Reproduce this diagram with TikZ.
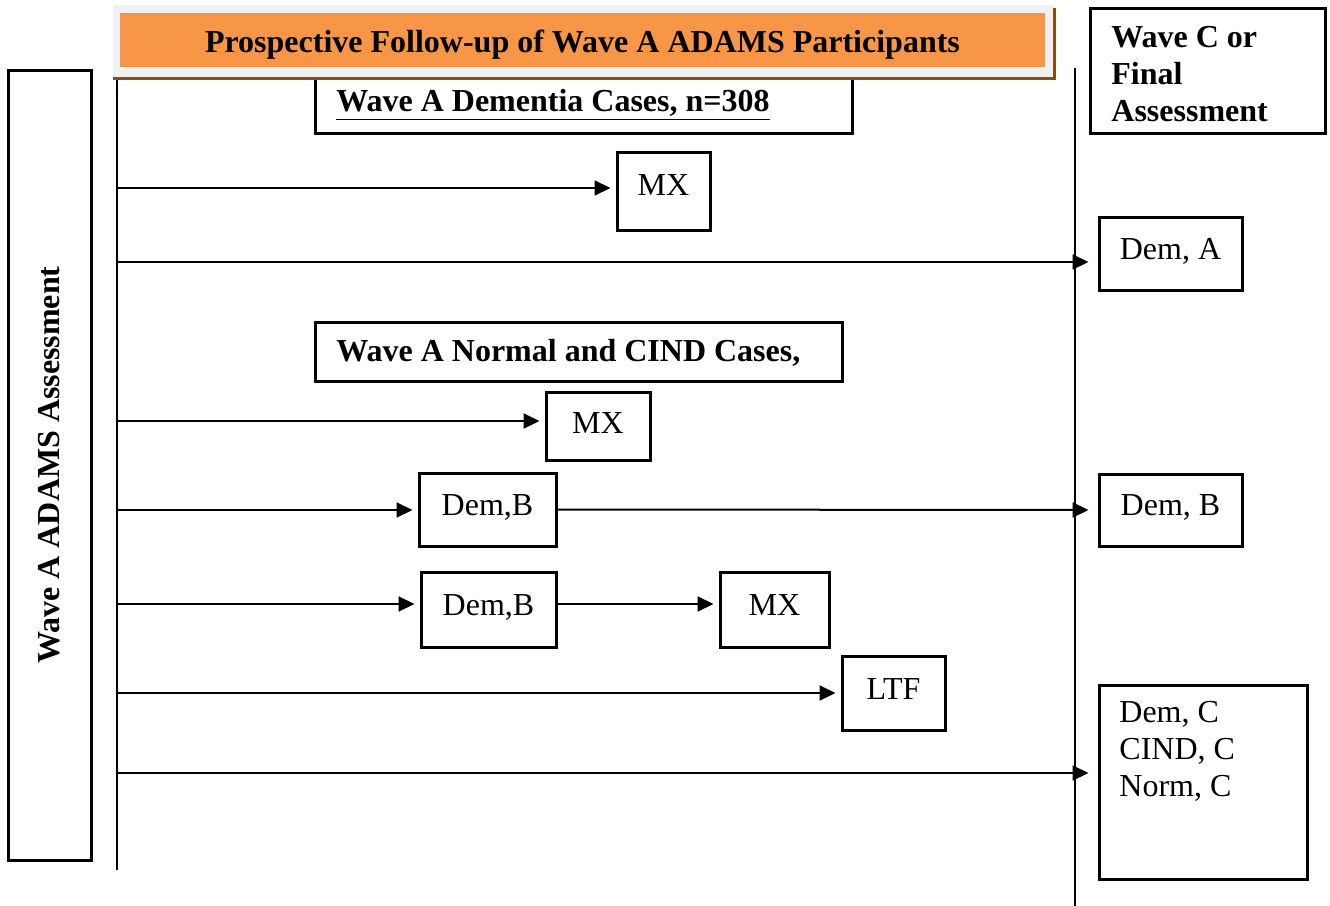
\documentclass[tikz,border=0pt]{standalone}
\usepackage{fontspec}
\setmainfont{Liberation Serif}
\usetikzlibrary{positioning,arrows.meta}
\definecolor{titleorange}{RGB}{247,150,70}
\definecolor{titlebrown}{RGB}{152,72,6}
\definecolor{titlegray}{RGB}{240,241,242}

\begin{document}
\begin{tikzpicture}[x=0.5pt, y=-0.5pt,
    box/.style={draw, rectangle, line width=1.5pt, inner sep=0pt,
                font=\fontsize{16}{18.5}\selectfont},
    htext/.style={font=\fontsize{16}{18.5}\selectfont\bfseries, inner sep=0pt,
                  anchor=west, align=left},
    ar/.style={-{Triangle[length=8pt,width=7.5pt]}, line width=1pt,
               shorten >=2.5pt},
    tline/.style={line width=1.3pt},
]
\useasboundingbox (0,0) rectangle (1330,906);

% case group headers
\node[box, minimum width=268.5pt, minimum height=27.5pt] (dem) at (583.5,106) {};
\node[htext] (demtxt) at (336,105) {\underline{Wave A Dementia Cases, n=308}};
\node[box, minimum width=263.5pt, minimum height=29.5pt] (norm) at (578.5,351.5) {};
\node[htext] (normtxt) at (336,353) {Wave A Normal and CIND Cases,};

% title banner
\fill[titlegray] (113,5) rectangle (1054,77);
\node[fill=titleorange, minimum width=462.5pt, minimum height=27pt, inner sep=0pt,
      text height=12.5pt, text depth=0.5pt,
      font=\fontsize{16}{18.5}\selectfont\bfseries] (title) at (582.5,40)
    {Prospective Follow-up of Wave A ADAMS Participants};
\draw[titlebrown, line width=1.5pt] (1054,8) -- (1054,78) -- (113,78);

% side headers
\node[box, minimum width=41.5pt, minimum height=395pt] (waveA) at (49.5,465) {};
\node[font=\fontsize{16}{18.5}\selectfont\bfseries, rotate=90] (waveAtxt)
    at (waveA) {Wave A ADAMS Assessment};
\node[box, minimum width=117.5pt, minimum height=62.5pt] (waveC) at (1207.5,70.5) {};
\node[htext] (waveCtxt) at (1111,74) {Wave C or\\Final\\Assessment};

% time lines
\coordinate (ltop) at (117,80);
\coordinate (lbot) at (117,870);
\coordinate (rtop) at (1075,68);
\coordinate (rbot) at (1075,906);
\draw[tline] (ltop) -- (lbot);
\draw[tline] (rtop) -- (rbot);

% outcome boxes
\node[box, minimum width=46.5pt, minimum height=39pt] (mx1) at (663.5,191) {\raisebox{6pt}{MX}};
\node[box, minimum width=71.5pt, minimum height=36.5pt] (demA) at (1170.5,253.5) {\raisebox{5pt}{Dem, A}};
\node[box, minimum width=52pt, minimum height=34pt] (mx2) at (598,426) {\raisebox{3pt}{MX}};
\node[box, minimum width=68.5pt, minimum height=36.5pt] (demB1) at (487.5,509.5) {\raisebox{4.5pt}{Dem,B}};
\node[box, minimum width=71.5pt, minimum height=36pt] (demBr) at (1170.5,510) {\raisebox{4.5pt}{Dem, B}};
\node[box, minimum width=67.5pt, minimum height=37.5pt] (demB2) at (488.5,609.5) {\raisebox{4pt}{Dem,B}};
\node[box, minimum width=54.5pt, minimum height=37.5pt] (mx3) at (774.5,609.5) {\raisebox{4pt}{MX}};
\node[box, minimum width=51.5pt, minimum height=37pt] (ltf) at (893.5,693) {\raisebox{4pt}{LTF}};
\node[box, minimum width=104pt, minimum height=97pt] (final) at (1203,782) {};
\node[font=\fontsize{16}{18.5}\selectfont, align=left, anchor=west, inner sep=0pt]
    (finaltxt) at (1119,751) {Dem, C\\CIND, C\\Norm, C};

% follow-up paths
\coordinate (s1) at (117,188);
\coordinate (s2) at (117,262);
\coordinate (s3) at (117,421);
\coordinate (s4) at (117,510);
\coordinate (s5) at (117,604);
\coordinate (s6) at (117,693);
\coordinate (s7) at (117,773);
\draw[ar] (s1) -- (s1 -| mx1.west);
\draw[ar, shorten >=4.5pt] (s2) -- (s2 -| demA.west);
\draw[ar] (s3) -- (s3 -| mx2.west);
\draw[ar] (s4) -- (s4 -| demB1.west);
\draw[ar, shorten >=4.5pt] (demB1.east) -- (demBr.west);
\draw[ar] (s5) -- (s5 -| demB2.west);
\draw[ar] (s5 -| demB2.east) -- (s5 -| mx3.west);
\draw[ar] (s6) -- (s6 -| ltf.west);
\draw[ar, shorten >=4.5pt] (s7) -- (s7 -| final.west);
\end{tikzpicture}
\end{document}
